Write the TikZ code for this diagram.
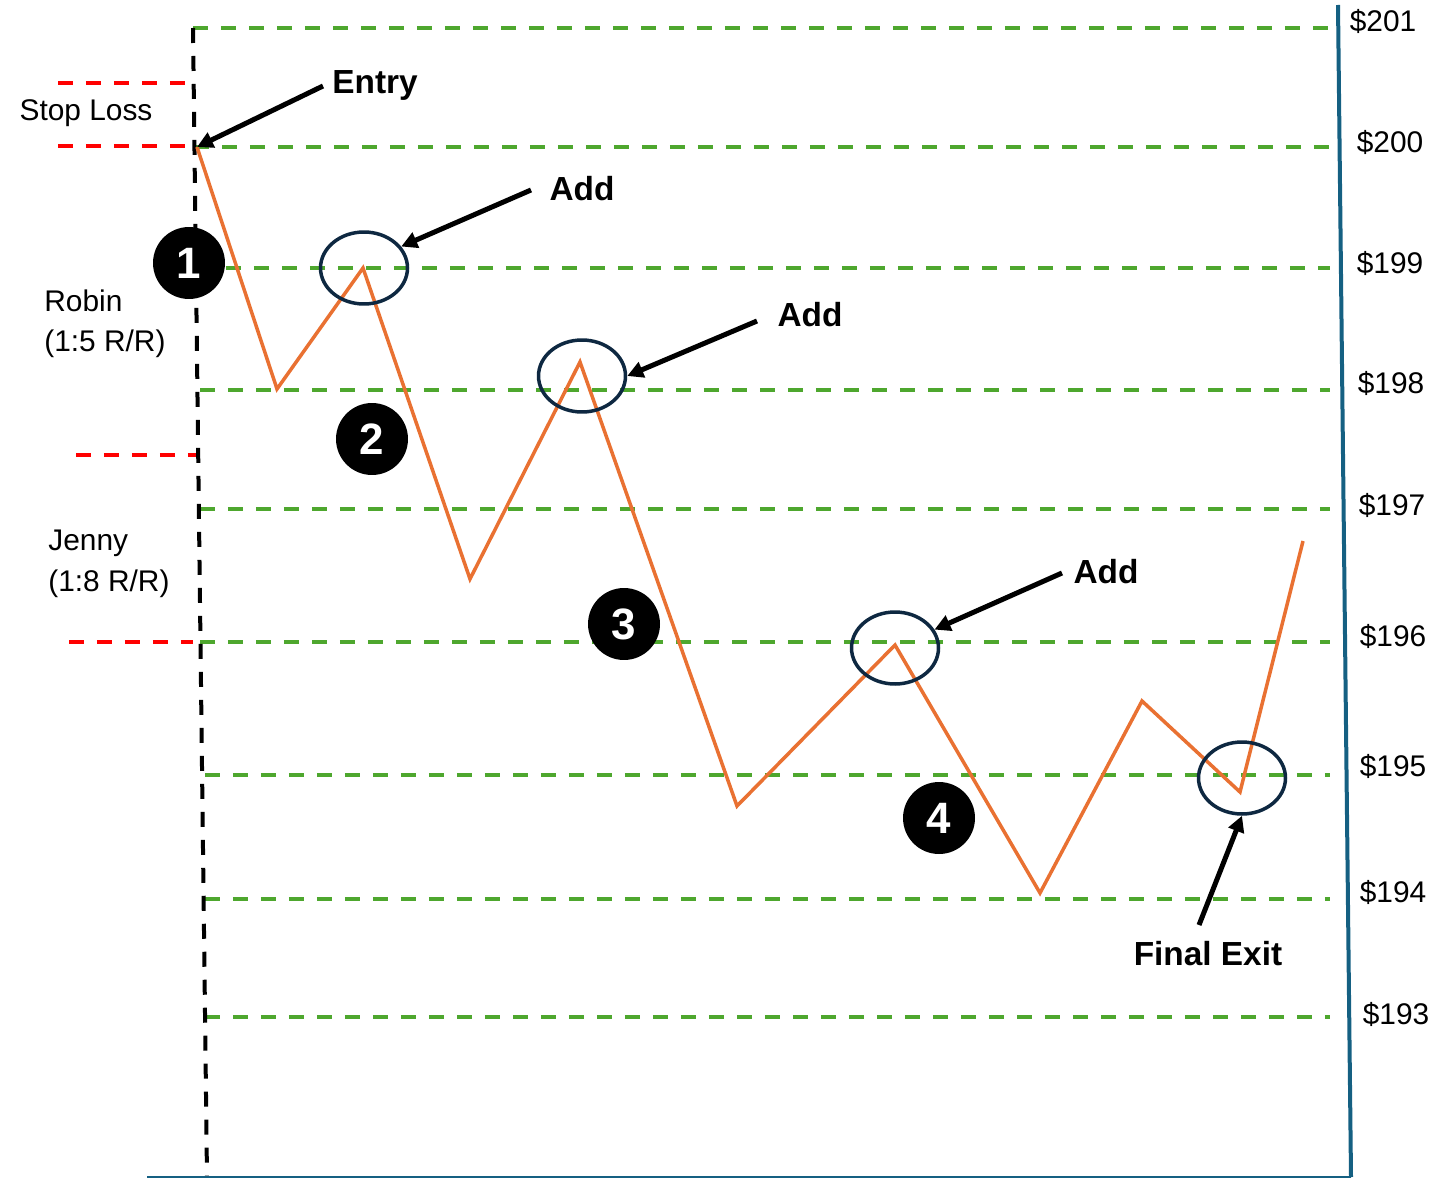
\documentclass[tikz,border=0pt]{standalone}
\usepackage{fontspec}
\setmainfont{Liberation Sans}
\usetikzlibrary{shapes.geometric,arrows.meta}
\definecolor{gline}{HTML}{4EA72E}
\definecolor{oline}{HTML}{E97132}
\definecolor{navy}{HTML}{0E2841}
\definecolor{axisc}{HTML}{156082}
\begin{document}
\begin{tikzpicture}[x=0.02cm,y=-0.02cm,
  gdash/.style={draw=gline,line width=0.07cm,dash pattern=on 0.3cm off 0.26cm},
  rdash/.style={draw=red,line width=0.07cm,dash pattern=on 0.3cm off 0.26cm},
  lbl/.style={font=\fontsize{17}{22}\selectfont,inner sep=0},
  blbl/.style={font=\fontsize{19}{22}\selectfont\bfseries,inner sep=0},
  numc/.style={circle,fill=black,minimum size=1.44cm,inner sep=0,text=white,font=\fontsize{25}{25}\selectfont\bfseries},
  ring/.style={ellipse,draw=navy,line width=0.07cm,minimum width=1.74cm,minimum height=1.44cm,inner sep=0},
  arr/.style={draw=black,line width=0.1cm,-{Triangle[length=0.32cm,width=0.32cm]}},
]
\useasboundingbox (0,0) rectangle (1433,1179);
% green price levels
\foreach \yy/\xx in {28/193,147/194,268/198,390/200,509/200,642/200,775/205,899/205,1017/205}
  \draw[gdash] (\xx,\yy) -- (1330,\yy);
% red stop levels
\draw[rdash] (58,83) -- (186,83);
\draw[rdash] (58,146) -- (186,146);
\draw[rdash] (76,455) -- (200,455);
\draw[rdash] (69,642) -- (193,642);
% black dashed vertical
\coordinate (vtop) at (193,28);
\coordinate (vbot) at (207,1177);
\draw[black,line width=0.08cm,dash pattern=on 0.3cm off 0.26cm] (vtop) -- (vbot);
% axes
\coordinate (ytop) at (1338,5);
\coordinate (ybot) at (1351,1177);
\coordinate (xl) at (147,1177);
\draw[axisc,line width=0.08cm] (ytop) -- (ybot);
\draw[axisc,line width=0.05cm] (xl) -- (ybot);
% price path
\coordinate (p0) at (197,147);
\coordinate (p1) at (277,389);
\coordinate (p2) at (363,268);
\coordinate (p3) at (470,579);
\coordinate (p4) at (580,362);
\coordinate (p5) at (737,806);
\coordinate (p6) at (895,645);
\coordinate (p7) at (1040,893);
\coordinate (p8) at (1142,701);
\coordinate (p9) at (1240,792);
\coordinate (p10) at (1303,541);
\draw[oline,line width=0.07cm] (p0) -- (p1) -- (p2) -- (p3) -- (p4) -- (p5) -- (p6) -- (p7) -- (p8) -- (p9) -- (p10);
% rings
\node[ring] (e1) at (364,268) {};
\node[ring] (e2) at (582,376) {};
\node[ring] (e3) at (895,648) {};
\node[ring] (e4) at (1242,778) {};
% numbered circles
\node[numc] (n1) at (189,263) {1};
\node[numc] (n2) at (372,439) {2};
\node[numc] (n3) at (624,624) {3};
\node[numc] (n4) at (939,818) {4};
% labels
\node[lbl] (sl) at (86,113) {Stop Loss};
\node[blbl] (entry) at (375,85) {Entry};
\node[lbl,align=left,anchor=west,font=\fontsize{17}{23}\selectfont] (robin) at (44,324) {Robin\\(1:5 R/R)};
\node[lbl,align=left,anchor=west,font=\fontsize{17}{23}\selectfont] (jenny) at (48,564) {Jenny\\(1:8 R/R)};
\node[blbl] (add1) at (582,189) {Add};
\node[blbl] (add2) at (810,315) {Add};
\node[blbl] (add3) at (1106,572) {Add};
\node[blbl] (fexit) at (1208,954) {Final Exit};
% prices
\node[lbl] (q201) at (1383,21) {\$201};
\node[lbl] (q200) at (1390,142) {\$200};
\node[lbl] (q199) at (1390,263) {\$199};
\node[lbl] (q198) at (1391,383) {\$198};
\node[lbl] (q197) at (1392,505) {\$197};
\node[lbl] (q196) at (1393,636) {\$196};
\node[lbl] (q195) at (1393,766) {\$195};
\node[lbl] (q194) at (1393,892) {\$194};
\node[lbl] (q193) at (1396,1014) {\$193};
% arrows
\coordinate (a0) at (323,86);
\coordinate (a1) at (531,190);
\coordinate (a2) at (757,321);
\coordinate (a3) at (1062,573);
\coordinate (a4) at (1199,925);
\draw[arr] (a0) -- (p0);
\draw[arr] (a1) -- (e1.30);
\draw[arr] (a2) -- (e2.0);
\draw[arr] (a3) -- (e3.25);
\draw[arr] (a4) -- (e4.south);
\end{tikzpicture}
\end{document}
